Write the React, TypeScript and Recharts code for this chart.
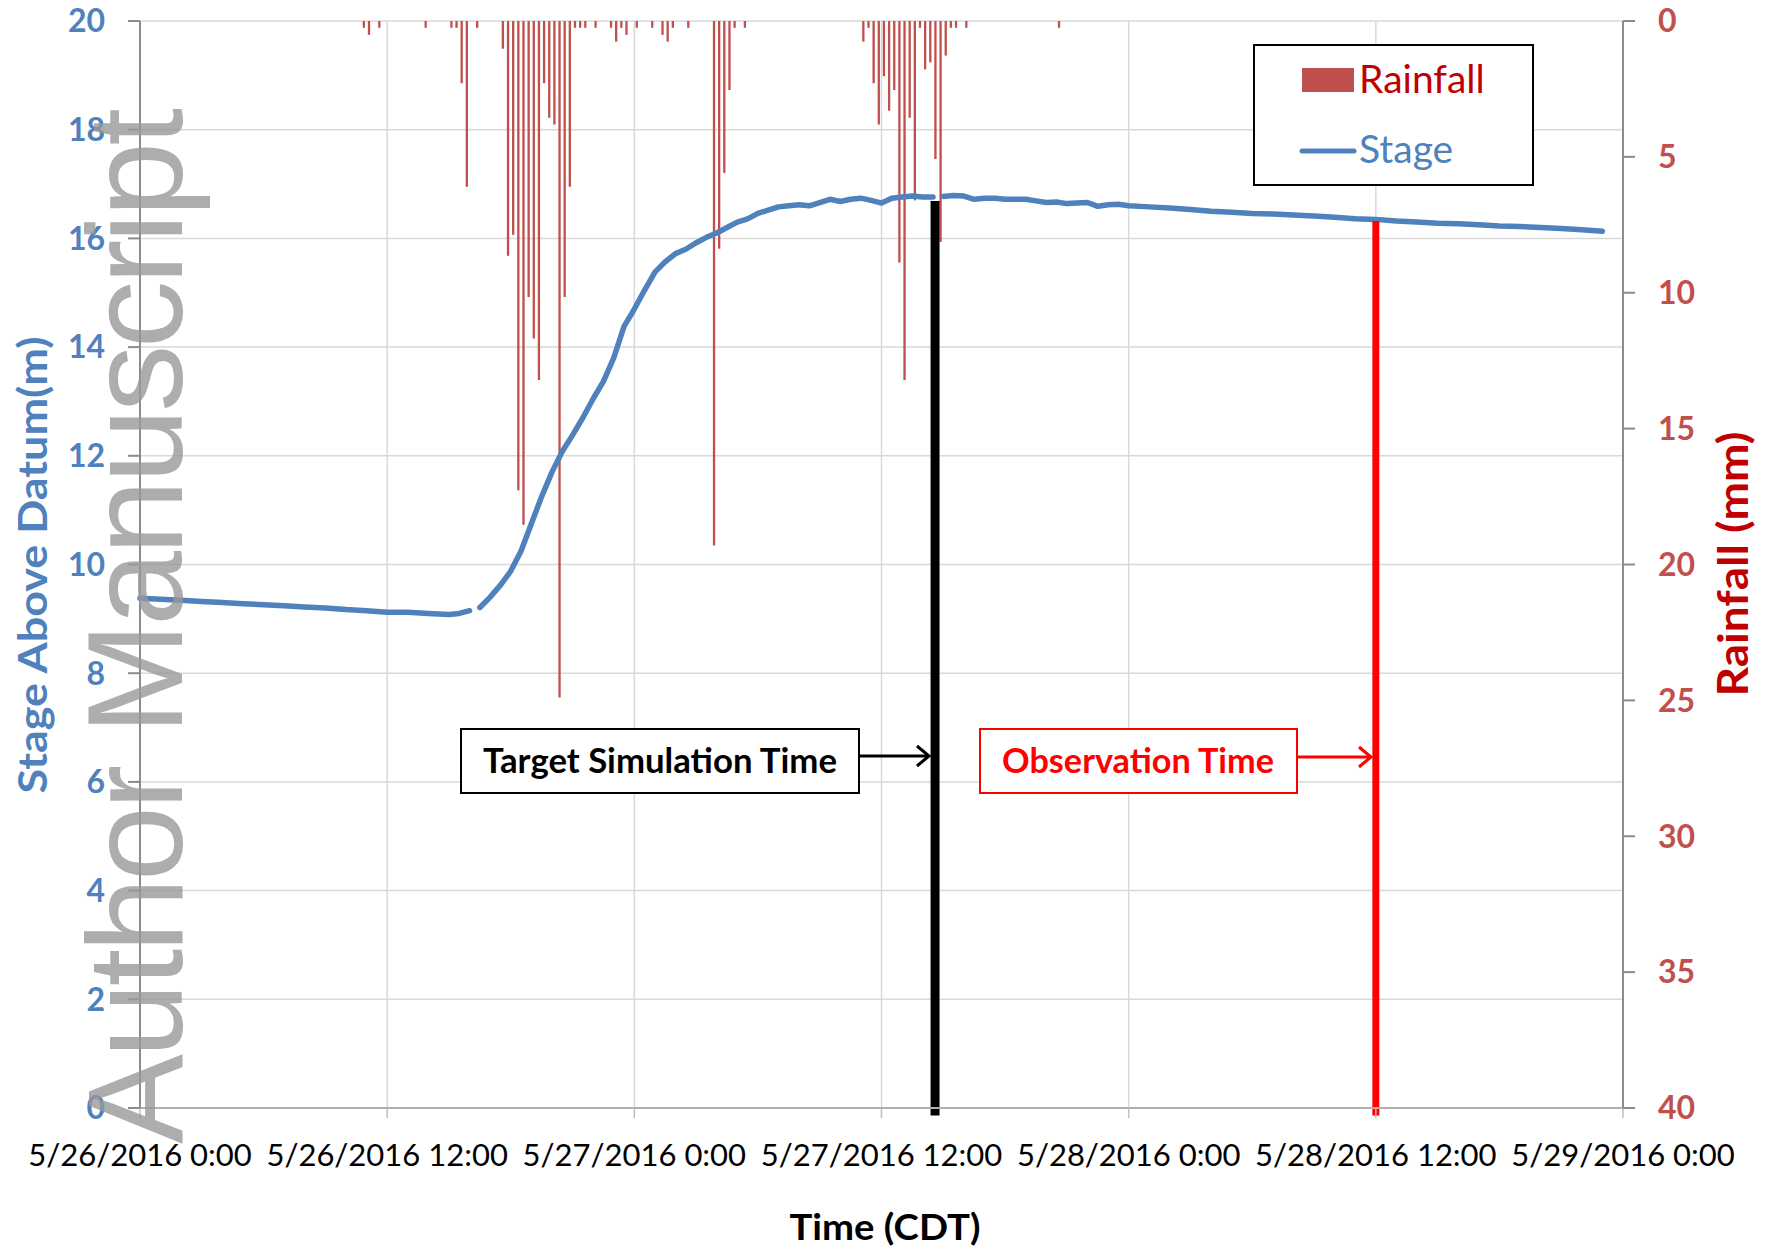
import React from "react";
import { ComposedChart, Bar, Line, XAxis, YAxis, CartesianGrid, ReferenceLine } from "recharts";

const W = 1779;
const H = 1252;
const FONT = "Lato, 'Open Sans', sans-serif";

// hours since 5/26/2016 0:00 CDT
const timeTicks = [0, 12, 24, 36, 48, 60, 72];
const timeLabels = [
  "5/26/2016 0:00", "5/26/2016 12:00", "5/27/2016 0:00", "5/27/2016 12:00",
  "5/28/2016 0:00", "5/28/2016 12:00", "5/29/2016 0:00",
];
const stageTicks = [0, 2, 4, 6, 8, 10, 12, 14, 16, 18, 20];
const rainTicks = [0, 5, 10, 15, 20, 25, 30, 35, 40];

// 15-minute rainfall: interval start (h) and depth (mm)
const rainStart = [
  10.75, 11, 11.5, 13.75, 15, 15.25, 15.5, 15.75, 16.25,
  17.5, 17.75, 18, 18.25, 18.5, 18.75, 19, 19.25, 19.5, 19.75, 20, 20.25, 20.5, 20.75,
  21, 21.25, 21.5, 22, 22.75, 23, 23.25, 23.5, 24, 24.75, 25.25, 25.5, 25.75, 26.5,
  27.75, 28, 28.25, 28.5, 28.75, 29.25,
  35, 35.25, 35.5, 35.75, 36, 36.25, 36.5, 36.75, 37, 37.25, 37.5, 37.75,
  38, 38.25, 38.5, 38.75, 39, 39.25, 39.5, 40, 44.5,
];
const rainMm = [
  0.25, 0.51, 0.25, 0.25, 0.25, 0.25, 2.29, 6.1, 0.25,
  1.02, 8.64, 7.87, 17.27, 18.54, 10.16, 11.68, 13.21, 2.29, 3.56, 3.81, 24.89, 10.16, 6.1,
  0.25, 0.25, 0.25, 0.25, 0.25, 0.76, 0.25, 0.51, 0.25, 0.25, 0.51, 0.76, 0.25, 0.25,
  19.3, 8.38, 5.59, 2.54, 0.25, 0.25,
  0.76, 0.25, 2.29, 3.81, 2.03, 3.3, 2.54, 8.89, 13.21, 3.56, 6.6, 0.25,
  1.78, 1.52, 5.08, 8.13, 1.27, 0.25, 0.25, 0.25, 0.25,
];

// river stage (m), null = gap in the record
const stageHours = [
  0, 1, 2, 3, 4, 5, 6, 7, 8, 9, 10, 11, 12, 13, 14, 15, 15.5, 16, 16.25,
  16.5, 17, 17.5, 18, 18.5, 19, 19.5, 20, 20.5, 21, 21.5, 22, 22.5, 23, 23.5, 24,
  24.5, 25, 25.5, 26, 26.5, 27, 27.5, 28, 28.5, 29, 29.5, 30, 30.5, 31, 31.5, 32,
  32.5, 33, 33.5, 34, 34.5, 35, 35.5, 36, 36.5, 37, 37.5, 38, 38.5, 38.75,
  39, 39.5, 40, 40.5, 41, 41.5, 42, 43, 43.5, 44, 44.5, 45, 46, 46.5, 47, 47.5, 48,
  49, 50, 51, 52, 53, 54, 55, 56, 57, 58, 59, 60, 61, 62, 63, 64, 65, 66, 67, 68, 69, 70, 71,
];
const stageM = [
  9.38, 9.36, 9.34, 9.32, 9.3, 9.28, 9.26, 9.24, 9.22, 9.2, 9.17, 9.15, 9.12, 9.12, 9.1, 9.08, 9.1, 9.15, null,
  9.21, 9.4, 9.62, 9.88, 10.25, 10.75, 11.25, 11.7, 12.08, 12.38, 12.7, 13.05, 13.37, 13.8, 14.38, 14.7,
  15.05, 15.38, 15.57, 15.72, 15.8, 15.92, 16.02, 16.1, 16.2, 16.3, 16.36, 16.46, 16.52, 16.58, 16.6, 16.62,
  16.6, 16.66, 16.72, 16.68, 16.72, 16.74, 16.7, 16.65, 16.74, 16.76, 16.78, 16.76, 16.76, null,
  16.77, 16.79, 16.78, 16.72, 16.74, 16.74, 16.72, 16.72, 16.69, 16.66, 16.67, 16.64, 16.66, 16.59, 16.62, 16.63, 16.6,
  16.58, 16.56, 16.53, 16.5, 16.48, 16.46, 16.45, 16.43, 16.41, 16.39, 16.36, 16.35, 16.32, 16.3, 16.28, 16.27, 16.25,
  16.23, 16.22, 16.2, 16.18, 16.16, 16.13,
];

const targetTime = 38.6;
const observationTime = 60;

const rainRows = rainStart.map((t, i) => ({ h: t + 0.125, rain: rainMm[i] }));
const stageRows = stageHours.map((t, i) => ({ h: t, stage: stageM[i] }));

const BLUE = "#4F81BD";
const RED = "#C0504D";

export default function App() {
  return (
    <div style={{ position: "absolute", left: 0, top: 0, width: W, height: H, background: "#fff", fontFamily: FONT }}>
      <ComposedChart width={W} height={H} data={rainRows} margin={{ top: 21, right: 0, bottom: 0, left: 0 }}>
        <CartesianGrid yAxisId="stage" stroke="#D9D9D9" strokeWidth={1.5} />
        <XAxis
          dataKey="h" type="number" domain={[0, 72]} ticks={timeTicks} interval={0} height={144}
          tickFormatter={(v) => timeLabels[timeTicks.indexOf(v)]}
          tick={{ fill: "#000", fontSize: 31, fontFamily: FONT }}
          tickSize={10} tickMargin={26}
          axisLine={{ stroke: "#B0B0B0", strokeWidth: 2 }} tickLine={{ stroke: "#BFBFBF", strokeWidth: 1.5 }}
        />
        <YAxis
          yAxisId="stage" orientation="left" width={140} domain={[0, 20]} ticks={stageTicks} interval={0}
          tick={{ fill: BLUE, fontSize: 32, fontWeight: 700, fontFamily: FONT }}
          tickSize={12} tickMargin={23}
          axisLine={{ stroke: "#8C8C8C", strokeWidth: 2 }} tickLine={{ stroke: "#8C8C8C", strokeWidth: 2 }}
        />
        <YAxis
          yAxisId="rain" orientation="right" width={156} domain={[0, 40]} reversed ticks={rainTicks} interval={0}
          tick={{ fill: RED, fontSize: 32, fontWeight: 700, fontFamily: FONT }}
          tickSize={12} tickMargin={23}
          axisLine={{ stroke: "#8C8C8C", strokeWidth: 2 }} tickLine={{ stroke: "#8C8C8C", strokeWidth: 2 }}
        />
        <Bar yAxisId="rain" dataKey="rain" fill={RED} barSize={3} isAnimationActive={false} />
        <Line
          yAxisId="stage" data={stageRows} dataKey="stage" type="linear" stroke={BLUE} strokeWidth={5.5}
          dot={false} activeDot={false} isAnimationActive={false} strokeLinecap="round" strokeLinejoin="round"
        />
        <ReferenceLine
          yAxisId="stage" ifOverflow="visible" stroke="#000" strokeWidth={9}
          segment={[{ x: targetTime, y: 16.69 }, { x: targetTime, y: -0.14 }]}
        />
        <ReferenceLine
          yAxisId="stage" ifOverflow="visible" stroke="#FF0000" strokeWidth={7}
          segment={[{ x: observationTime, y: 16.32 }, { x: observationTime, y: -0.14 }]}
        />
      </ComposedChart>

      <svg width={W} height={H} style={{ position: "absolute", left: 0, top: 0, pointerEvents: "none" }}>
        {/* legend */}
        <rect x={1254} y={45} width={279} height={140} fill="#fff" stroke="#000" strokeWidth={2} />
        <rect x={1302} y={68} width={52} height={24} fill={RED} />
        <text x={1359} y={93} fill="#C00000" fontSize={39} fontFamily={FONT}>Rainfall</text>
        <line x1={1302} x2={1354} y1={151} y2={151} stroke={BLUE} strokeWidth={5} strokeLinecap="round" />
        <text x={1359} y={163} fill={BLUE} fontSize={39} fontFamily={FONT}>Stage</text>

        {/* annotations */}
        <rect x={461} y={729} width={398} height={64} fill="#fff" stroke="#000" strokeWidth={2} />
        <text x={660} y={773} textAnchor="middle" fontSize={34} fontWeight={700} fontFamily={FONT} fill="#000"
          textLength={354} lengthAdjust="spacingAndGlyphs">Target Simulation Time</text>
        <line x1={859} x2={929} y1={756} y2={756} stroke="#000" strokeWidth={3} />
        <polyline points="917,746 929,756 917,766" fill="none" stroke="#000" strokeWidth={3} />

        <rect x={980} y={729} width={317} height={64} fill="#fff" stroke="#FF0000" strokeWidth={2} />
        <text x={1138} y={773} textAnchor="middle" fontSize={34} fontWeight={700} fontFamily={FONT} fill="#FF0000"
          textLength={272} lengthAdjust="spacingAndGlyphs">Observation Time</text>
        <line x1={1297} x2={1371} y1={757} y2={757} stroke="#FF0000" strokeWidth={3} />
        <polyline points="1359,747 1371,757 1359,767" fill="none" stroke="#FF0000" strokeWidth={3} />

        {/* axis titles */}
        <text transform="translate(47,565) rotate(-90)" textAnchor="middle" fontSize={40} fontWeight={700}
          fontFamily={FONT} fill={BLUE} textLength={457} lengthAdjust="spacingAndGlyphs">Stage Above Datum(m)</text>
        <text transform="translate(1748,564) rotate(-90)" textAnchor="middle" fontSize={42} fontWeight={700}
          fontFamily={FONT} fill="#C00000" textLength={265} lengthAdjust="spacingAndGlyphs">Rainfall (mm)</text>
        <text x={885} y={1240} textAnchor="middle" fontSize={37} fontWeight={700} fontFamily={FONT} fill="#000"
          textLength={191} lengthAdjust="spacingAndGlyphs">Time (CDT)</text>

        {/* watermark */}
        <text transform="translate(182,626) rotate(-90)" textAnchor="middle" fontSize={135}
          fontFamily="'Liberation Sans', Arial, sans-serif" fill="#999" opacity={0.8}
          textLength={1036} lengthAdjust="spacing">Author Manuscript</text>
      </svg>
    </div>
  );
}
